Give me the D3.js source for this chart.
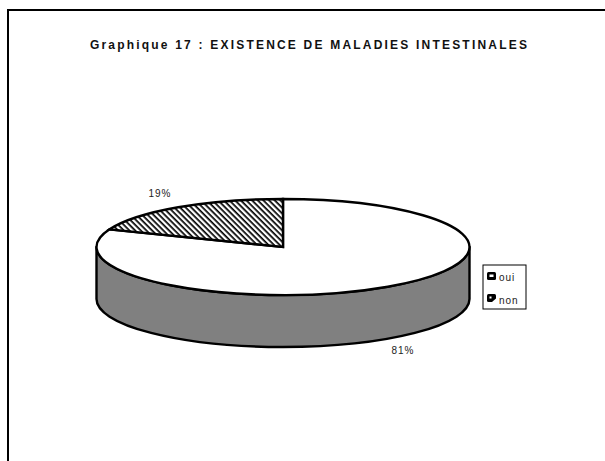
<!DOCTYPE html>
<html><head><meta charset="utf-8">
<script src="https://cdn.jsdelivr.net/npm/d3@7"></script>
<style>html,body{margin:0;padding:0;background:#fff}svg{display:block}text{font-family:"Liberation Sans",Arial,sans-serif}</style>
</head><body><svg id="c" width="605" height="461"></svg>
<script>
const titleText = "Graphique 17 : EXISTENCE DE MALADIES INTESTINALES";
const categories = ["oui", "non"];
const values = [81, 19];
const valueLabels = ["81%", "19%"];

const svg = d3.select("#c");
const cx = 283, cy = 247, rx = 186.5, ry = 48, depth = 52;

const defs = svg.append("defs");
const hatch = defs.append("pattern").attr("id","hatch").attr("patternUnits","userSpaceOnUse")
  .attr("width",4).attr("height",4).attr("patternTransform",`scale(1,${rx/ry}) rotate(45)`);
hatch.append("rect").attr("width",4).attr("height",4).attr("fill","#fff");
hatch.append("rect").attr("width",4).attr("height",1.7).attr("fill","#000");

// frame: top and left only
svg.append("path").attr("d","M8,461V10H605").attr("fill","none").attr("stroke","#000").attr("stroke-width",2);

svg.append("text").attr("x",309.5).attr("y",49).attr("text-anchor","middle")
  .attr("font-size",12).attr("font-weight","bold").attr("letter-spacing",2.2).attr("fill","#111").text(titleText);

// side wall
const yOf = d3.scaleLinear().domain([0,1]).range([cy,cy+depth]);
svg.append("path")
  .attr("d",`M${cx-rx},${yOf(0)}A${rx},${ry} 0 0 0 ${cx+rx},${yOf(0)}V${yOf(1)}A${rx},${ry} 0 0 1 ${cx-rx},${yOf(1)}Z`)
  .attr("fill","#808080").attr("stroke","#000").attr("stroke-width",2.4).attr("stroke-linejoin","round");

// top face: slices from the data, a circle squashed to an ellipse
const pie = d3.pie().sort(null).value(d=>d);
const arc = d3.arc().innerRadius(0).outerRadius(rx);
const fills = ["#fff","url(#hatch)"];
svg.append("g").selectAll("path").data(pie(values)).join("path")
  .attr("transform",`translate(${cx},${cy}) scale(1,${ry/rx})`)
  .attr("d",arc).attr("fill",(d,i)=>fills[i]).attr("stroke","#000").attr("stroke-width",2.4)
  .attr("vector-effect","non-scaling-stroke").attr("stroke-linejoin","miter");

// value labels
const labelPos = [[403,354],[160,197]];
svg.append("g").selectAll("text").data(valueLabels).join("text")
  .attr("x",(d,i)=>labelPos[i][0]).attr("y",(d,i)=>labelPos[i][1]).attr("text-anchor","middle")
  .attr("font-size",10).attr("letter-spacing",1).attr("fill","#222").text(d=>d);

// legend
svg.append("rect").attr("x",483).attr("y",265).attr("width",43).attr("height",44).attr("fill","#fff").attr("stroke","#000").attr("stroke-width",1);
const lg = svg.append("g").selectAll("g").data(categories).join("g")
  .attr("transform",(d,i)=>`translate(487,${272+i*22})`);
lg.append("rect").attr("width",9).attr("height",8).attr("rx",1.5).attr("fill","#000");
lg.append("rect").attr("x",2.5).attr("y",2.5).attr("width",(d,i)=>i?2:4).attr("height",(d,i)=>i?2:2.5).attr("fill","#fff");
lg.append("path").attr("d",(d,i)=>i?"M5,8L9,4.5V8Z":"").attr("fill","#fff");
lg.append("text").attr("x",12).attr("y",(d,i)=>i?10:9).attr("font-size",10).attr("letter-spacing",1).attr("fill","#222").text(d=>d);
</script></body></html>
